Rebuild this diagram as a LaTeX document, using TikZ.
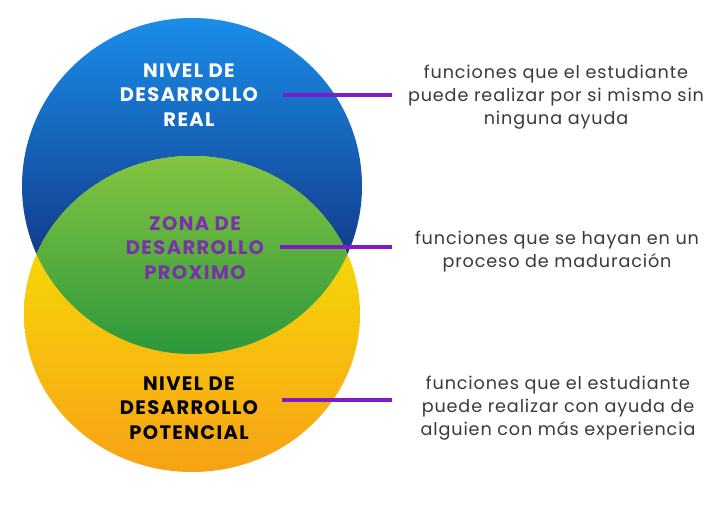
\documentclass[tikz,border=0pt]{standalone}
\usepackage{fontspec}
\setmainfont{Poppins}
\newfontfamily\bigfont[LetterSpace=7]{Poppins}
\newfontfamily\descfont[LetterSpace=5]{Poppins}
\definecolor{blueTop}{HTML}{1A8EEA}
\definecolor{blueMid}{HTML}{163CA8}
\definecolor{blueBot}{HTML}{0E1A66}
\definecolor{yelTop}{HTML}{F6EC06}
\definecolor{yelMid}{HTML}{F9D20A}
\definecolor{yelBot}{HTML}{F7A214}
\definecolor{greenTop}{HTML}{84C440}
\definecolor{greenBot}{HTML}{2C983C}
\definecolor{zonaPurple}{HTML}{7A32A8}
\definecolor{linkPurple}{HTML}{7E1CC8}
\definecolor{descText}{HTML}{3A3A3A}
\begin{document}
\begin{tikzpicture}[x=1pt,y=-1pt,
  big/.style={font=\bigfont\bfseries\fontsize{19.5}{24.5}\selectfont, align=center, inner sep=0pt},
  desc/.style={font=\descfont\fontsize{17.6}{23}\selectfont, text=descText, align=center, inner sep=0pt},
  link/.style={draw=linkPurple, line width=4pt}]
\path[fill=white,use as bounding box] (0,0) rectangle (725,505);
% blue circle
\shade[top color=blueTop, middle color=blueMid, bottom color=blueBot]
  (192,186) ellipse [x radius=170pt, y radius=168pt];
% yellow circle
\shade[top color=yelTop, middle color=yelMid, bottom color=yelBot]
  (192,314) ellipse [x radius=168pt, y radius=158pt];
% green intersection
\begin{scope}
  \clip (192,186) ellipse [x radius=170pt, y radius=168pt];
  \clip (192,314) ellipse [x radius=168pt, y radius=158pt];
  \shade[top color=greenTop, bottom color=greenBot] (0,156) rectangle (725,355);
\end{scope}
% circle labels
\node[big, text=white] (real) at (189,95) {NIVEL DE\\DESARROLLO\\REAL};
\node[big, text=zonaPurple] (zona) at (195,248) {ZONA DE\\DESARROLLO\\PROXIMO};
\node[big, text=black] (pot) at (189,408) {NIVEL DE\\DESARROLLO\\POTENCIAL};
% descriptions
\node[desc] (d1) at (556,97) {funciones que el estudiante\\puede realizar por si mismo sin\\ninguna ayuda};
\node[desc] (d2) at (557,252) {funciones que se hayan en un\\proceso de maduración};
\node[desc] (d3) at (558,408) {funciones que el estudiante\\puede realizar con ayuda de\\alguien con más experiencia};
% connector ends
\coordinate (a1) at (283,95);
\coordinate (b1) at (392,95);
\coordinate (a2) at (280,247);
\coordinate (b2) at (392,247);
\coordinate (a3) at (282,400);
\coordinate (b3) at (392,400);
\draw[link] (a1) -- (b1);
\draw[link] (a2) -- (b2);
\draw[link] (a3) -- (b3);
\end{tikzpicture}
\end{document}
